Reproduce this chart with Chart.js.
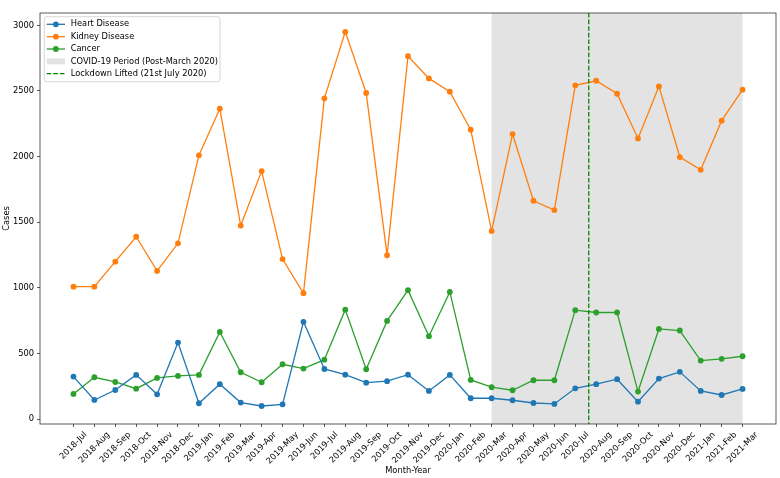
<!DOCTYPE html>
<html>
<head>
<meta charset="utf-8">
<script src="https://cdn.jsdelivr.net/npm/chart.js@4/dist/chart.umd.min.js"></script>
<style>
  html, body { margin: 0; padding: 0; background: #fff; }
  canvas { display: block; }
</style>
</head>
<body>
<canvas id="chart" width="780" height="478"></canvas>
<script>
// monthly cases, 2018-Jul .. 2021-Mar
const months = [
  '2018-Jul', '2018-Aug', '2018-Sep', '2018-Oct', '2018-Nov', '2018-Dec',
  '2019-Jan', '2019-Feb', '2019-Mar', '2019-Apr', '2019-May', '2019-Jun',
  '2019-Jul', '2019-Aug', '2019-Sep', '2019-Oct', '2019-Nov', '2019-Dec',
  '2020-Jan', '2020-Feb', '2020-Mar', '2020-Apr', '2020-May', '2020-Jun',
  '2020-Jul', '2020-Aug', '2020-Sep', '2020-Oct', '2020-Nov', '2020-Dec',
  '2021-Jan', '2021-Feb', '2021-Mar'
];
const heartDisease = [
  325, 147, 223, 338, 190, 584,
  122, 267, 127, 101, 114, 742, 383, 340, 279, 290, 340, 216,
  338, 160, 160, 145, 124, 117, 236, 267, 305, 134, 310, 361,
  216, 185, 231
];
const kidneyDisease = [
  1010, 1010, 1200, 1390, 1130, 1340,
  2010, 2365, 1475, 1890, 1220, 960, 2444, 2950, 2485, 1250, 2765, 2596,
  2495, 2205, 1433, 2172, 1664, 1593, 2543, 2578, 2479, 2139, 2535, 1997,
  1900, 2274, 2510
];
const cancer = [
  193, 320, 284, 233, 315, 330,
  338, 665, 358, 282, 419, 386, 454, 835, 381, 749, 983, 633,
  970, 300, 244, 221, 297, 297, 831, 813, 813, 211, 688, 676,
  447, 460, 480
];
const yTicks = [0, 500, 1000, 1500, 2000, 2500, 3000];
const covidStart = '2020-Mar';
const covidEnd = '2021-Mar';
// 21st July 2020 sits 20/31 of the way from Jul to Aug
const lockdownLifted = months.indexOf('2020-Jul') + 20 / 31;

const FONT_SIZE = 8.3;
const FONT = FONT_SIZE + 'px "DejaVu Sans"';
const colors = { heart: '#1f77b4', kidney: '#ff7f0e', cancer: '#2ca02c' };

function series(label, values, color) {
  return {
    label,
    data: values.map((v, i) => ({ x: i, y: v })),
    borderColor: color,
    backgroundColor: color,
    borderWidth: 1.3,
    pointRadius: 2.9,
    pointBorderWidth: 0,
    pointBackgroundColor: color,
    tension: 0
  };
}

const extras = {
  id: 'extras',
  beforeDatasetsDraw(chart) {
    const { ctx, chartArea: a, scales: { x } } = chart;
    const x0 = x.getPixelForValue(months.indexOf(covidStart));
    const x1 = x.getPixelForValue(months.indexOf(covidEnd));
    ctx.save();
    ctx.fillStyle = 'rgba(128,128,128,0.22)';
    ctx.fillRect(x0, a.top, x1 - x0, a.bottom - a.top);
    ctx.restore();
  },
  afterDatasetsDraw(chart) {
    const { ctx, chartArea: a, scales: { x } } = chart;
    const lx = x.getPixelForValue(lockdownLifted);
    ctx.save();
    ctx.strokeStyle = '#008000';
    ctx.lineWidth = 1.25;
    ctx.setLineDash([4.6, 2]);
    ctx.beginPath();
    ctx.moveTo(lx, a.top);
    ctx.lineTo(lx, a.bottom);
    ctx.stroke();
    ctx.restore();
  },
  afterDraw(chart) {
    const { ctx, chartArea: a, scales: { x } } = chart;
    ctx.save();
    // frame
    ctx.strokeStyle = '#333';
    ctx.lineWidth = 0.8;
    ctx.strokeRect(a.left, a.top, a.right - a.left, a.bottom - a.top);

    // x tick labels, rotated 45 and centred on the tick like matplotlib
    ctx.font = FONT;
    ctx.fillStyle = '#000';
    ctx.textAlign = 'center';
    ctx.textBaseline = 'middle';
    const h = FONT_SIZE * 1.17;
    months.forEach((m, i) => {
      const px = x.getPixelForValue(i);
      const w = ctx.measureText(m).width;
      const cy = a.bottom + 6 + (w + h) * Math.SQRT1_2 / 2;
      ctx.save();
      ctx.translate(px, cy);
      ctx.rotate(-Math.PI / 4);
      ctx.fillText(m, 0, 0);
      ctx.restore();
    });

    // axis titles
    ctx.fillText('Month-Year', (a.left + a.right) / 2, 471);
    ctx.save();
    ctx.translate(6.5, (a.top + a.bottom) / 2);
    ctx.rotate(-Math.PI / 2);
    ctx.fillText('Cases', 0, 0);
    ctx.restore();

    // legend
    const lx = 44.3, ly = 16.7, lw = 175.7, lh = 65;
    ctx.fillStyle = 'rgba(255,255,255,0.8)';
    ctx.strokeStyle = '#cccccc';
    ctx.lineWidth = 0.8;
    ctx.beginPath();
    ctx.roundRect(lx, ly, lw, lh, 2.5);
    ctx.fill();
    ctx.stroke();

    const rows = [
      { kind: 'line', color: colors.heart, text: 'Heart Disease' },
      { kind: 'line', color: colors.kidney, text: 'Kidney Disease' },
      { kind: 'line', color: colors.cancer, text: 'Cancer' },
      { kind: 'patch', color: 'rgba(128,128,128,0.22)', text: 'COVID-19 Period (Post-March 2020)' },
      { kind: 'dash', color: '#008000', text: 'Lockdown Lifted (21st July 2020)' }
    ];
    const hx0 = 46.7, hx1 = 65;
    rows.forEach((r, i) => {
      const cy = 24.3 + i * 12.35;
      ctx.save();
      if (r.kind === 'patch') {
        ctx.fillStyle = r.color;
        ctx.fillRect(hx0, cy - 3, hx1 - hx0, 6);
      } else {
        ctx.strokeStyle = r.color;
        ctx.lineWidth = 1.3;
        if (r.kind === 'dash') ctx.setLineDash([4.6, 2]);
        ctx.beginPath();
        ctx.moveTo(hx0, cy);
        ctx.lineTo(hx1, cy);
        ctx.stroke();
        if (r.kind === 'line') {
          ctx.fillStyle = r.color;
          ctx.beginPath();
          ctx.arc((hx0 + hx1) / 2, cy, 2.9, 0, Math.PI * 2);
          ctx.fill();
        }
      }
      ctx.restore();
      ctx.fillStyle = '#000';
      ctx.textAlign = 'left';
      ctx.textBaseline = 'middle';
      ctx.fillText(r.text, 70.7, cy);
    });
    ctx.restore();
  }
};

new Chart(document.getElementById('chart'), {
  type: 'line',
  data: {
    datasets: [
      series('Heart Disease', heartDisease, colors.heart),
      series('Kidney Disease', kidneyDisease, colors.kidney),
      series('Cancer', cancer, colors.cancer)
    ]
  },
  options: {
    responsive: false,
    animation: false,
    devicePixelRatio: 1,
    layout: { padding: { top: 13, right: 2.5, left: 0, bottom: 0 } },
    plugins: { legend: { display: false }, tooltip: { enabled: false } },
    scales: {
      x: {
        type: 'linear',
        min: -1.6,
        max: 33.6,
        afterBuildTicks: s => { s.ticks = months.map((m, i) => ({ value: i })); },
        ticks: { display: false },
        grid: { drawOnChartArea: false, drawTicks: true, tickLength: 3, color: '#333', lineWidth: 0.8 },
        border: { display: false },
        afterFit: s => { s.height = 54; }
      },
      y: {
        min: -36,
        max: 3094,
        afterBuildTicks: s => { s.ticks = yTicks.map(v => ({ value: v })); },
        ticks: {
          font: { family: 'DejaVu Sans', size: FONT_SIZE },
          color: '#000',
          padding: 3,
          callback: v => String(v)
        },
        grid: { drawOnChartArea: false, drawTicks: true, tickLength: 3, color: '#333', lineWidth: 0.8 },
        border: { display: false },
        afterFit: s => { s.width = 40; }
      }
    }
  },
  plugins: [extras]
});
</script>
</body>
</html>
